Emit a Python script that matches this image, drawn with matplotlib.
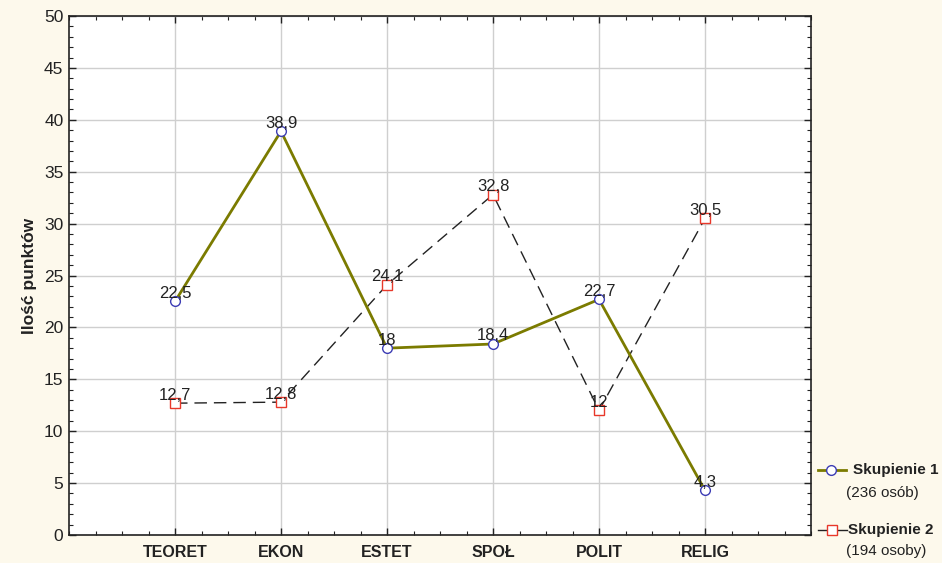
import matplotlib
matplotlib.use("Agg")
import matplotlib.pyplot as plt
from matplotlib.lines import Line2D
from matplotlib.ticker import MultipleLocator

plt.rcParams['font.family'] = ['Liberation Sans', 'DejaVu Sans']

categories = ["TEORET", "EKON", "ESTET", "SPOŁ", "POLIT", "RELIG"]
skupienie1 = [22.5, 38.9, 18.0, 18.4, 22.7, 4.3]
skupienie2 = [12.7, 12.8, 24.1, 32.8, 12.0, 30.5]
labels1 = ["22,5", "38,9", "18", "18,4", "22,7", "4,3"]
labels2 = ["12,7", "12,8", "24,1", "32,8", "12", "30,5"]
legend_names = ["Skupienie 1", "Skupienie 2"]
legend_sub = ["(236 osób)", "(194 osoby)"]

bg = "#fdf9ec"
olive = "#7b7b00"
blue = "#3c3cb4"
red = "#e8382a"

fig = plt.figure(figsize=(9.42, 5.63), dpi=100, facecolor=bg)
ax = fig.add_axes([69/942, 1-535/563, (811-69)/942, (535-16)/563])
ax.set_facecolor("white")

x = list(range(1, len(categories) + 1))
ax.plot(x, skupienie2, color="#222222", lw=1.0, dashes=(9, 5), marker="s",
        ms=7, mfc="white", mec=red, mew=1.0, zorder=3)
ax.plot(x, skupienie1, color=olive, lw=2.0, marker="o",
        ms=7, mfc="white", mec=blue, mew=1.0, zorder=4)

for xi, v, t in zip(x, skupienie1, labels1):
    ax.text(xi, v + 0.35, t, ha="center", va="baseline", fontsize=12, color="#222222", zorder=5)
for xi, v, t in zip(x, skupienie2, labels2):
    ax.text(xi, v + 0.35, t, ha="center", va="baseline", fontsize=12, color="#222222", zorder=5)

ax.set_xlim(0, 7)
ax.set_ylim(0, 50)
ax.set_xticks(x)
ax.set_xticklabels(categories, fontweight="bold", color="#222222")
ax.xaxis.set_minor_locator(MultipleLocator(0.25))
ax.yaxis.set_major_locator(MultipleLocator(5))
ax.yaxis.set_minor_locator(MultipleLocator(1))
ax.tick_params(axis="both", which="both", direction="in", top=True, right=True,
               color="#222222")
ax.tick_params(axis="both", which="major", length=5, width=1, labelsize=12.5,
               labelcolor="#222222", pad=4)
ax.tick_params(axis="both", which="minor", length=3, width=0.8)
ax.tick_params(axis="x", which="major", pad=7, labelsize=11.5)
ax.grid(True, which="major", color="#cfcfcf", lw=1.0)
ax.set_axisbelow(True)
for s in ax.spines.values():
    s.set_color("#222222")
    s.set_linewidth(1.2)

ax.set_ylabel("Ilość punktów", fontweight="bold", fontsize=12.5, color="#222222", labelpad=5)

# manual legend
def fx(px):
    return px / 942
def fy(py):
    return 1 - py / 563

fig.add_artist(Line2D([fx(818), fx(846)], [fy(470), fy(470)], color=olive, lw=2.0,
                      marker=None, transform=fig.transFigure))
fig.add_artist(Line2D([fx(831)], [fy(470)], marker="o", ms=7, mfc="white", mec=blue,
                      mew=1.0, transform=fig.transFigure, ls="none"))
fig.text(fx(853), fy(470), legend_names[0], fontweight="bold", fontsize=11,
         va="center", ha="left", color="#222222")
fig.text(fx(846), fy(493), legend_sub[0], fontsize=11, va="center", ha="left", color="#222222")

fig.add_artist(Line2D([fx(818), fx(847)], [fy(530), fy(530)], color="#222222", lw=1.0,
                      transform=fig.transFigure))
fig.add_artist(Line2D([fx(832)], [fy(530)], marker="s", ms=7, mfc="white", mec=red,
                      mew=1.0, transform=fig.transFigure, ls="none"))
fig.text(fx(848), fy(530), legend_names[1], fontweight="bold", fontsize=11,
         va="center", ha="left", color="#222222")
fig.text(fx(846), fy(551), legend_sub[1], fontsize=11, va="center", ha="left", color="#222222")

fig.savefig("out.png", dpi=100, facecolor=bg)
